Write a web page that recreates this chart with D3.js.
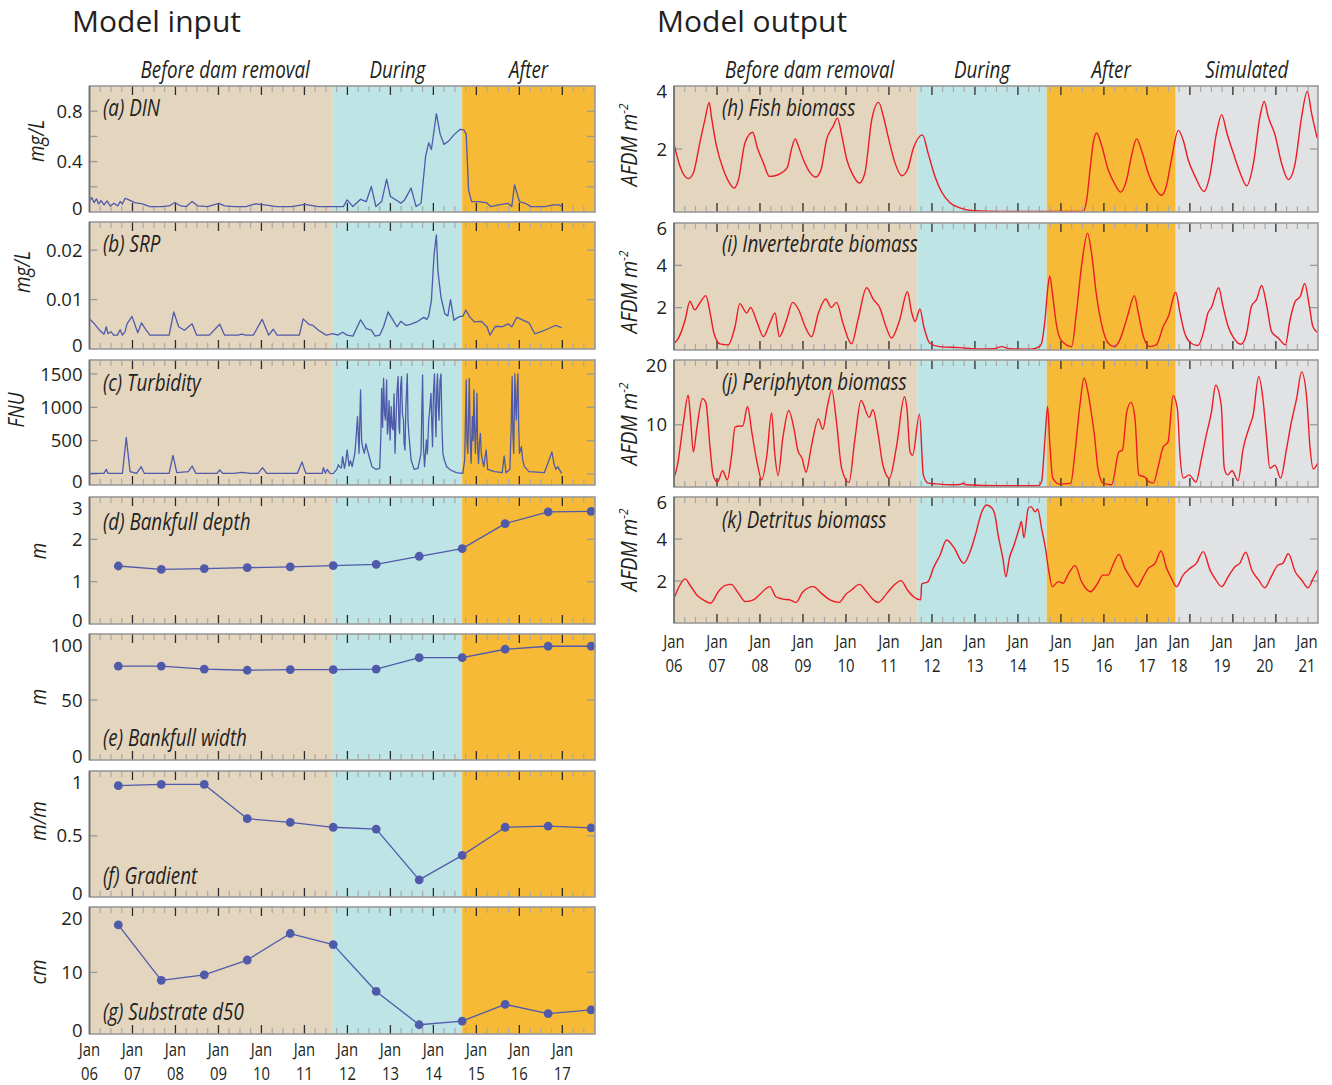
<!DOCTYPE html>
<meta charset="utf-8">
<html>
<head>
    <title>Model input and output</title>
    <script src="https://cdn.jsdelivr.net/npm/d3@7"></script>
    <style>
        body { margin: 0; background: #fff; }
        text { font-family: "Open Sans", "Noto Sans", sans-serif; fill: #231f20; }
        .tlab { font-size: 18.5px; }
        .xlab { font-size: 17.5px; }
        .ital { font-size: 23.5px; font-style: italic; }
        .ylab { font-size: 22px; font-style: italic; }
        .head { font-size: 30px; }
    </style>
</head>
<body>
<script>
// ---------------- data ----------------
var periodNames = ["Before dam removal", "During", "After", "Simulated"];
var periodStart = [2006, 2011.66, 2014.67, 2017.67];
var periodEnd   = [2011.66, 2014.67, 2017.67, 2020.98];
var periodColor = ["#e4d5bf", "#bee4e5", "#f6ba37", "#e1e2e4"];

// annual channel surveys (late summer)
var surveyT  = [2006.67, 2007.67, 2008.67, 2009.67, 2010.67, 2011.67, 2012.67, 2013.67, 2014.67, 2015.67, 2016.67, 2017.67];
var depth    = [1.37, 1.29, 1.31, 1.33, 1.35, 1.38, 1.41, 1.60, 1.78, 2.37, 2.65, 2.66];
var width    = [78.3, 78.3, 75.8, 74.8, 75.3, 75.3, 75.8, 85.3, 85.3, 92.3, 94.8, 94.8];
var gradient = [0.91, 0.92, 0.92, 0.64, 0.61, 0.57, 0.555, 0.14, 0.34, 0.57, 0.58, 0.565];
var d50      = [17.7, 8.7, 9.6, 12.0, 16.3, 14.5, 6.9, 1.5, 2.1, 4.8, 3.3, 3.9];

// [decimal year, value]
var din = [[2006.0,0.083],[2006.053,0.115],[2006.107,0.075],[2006.16,0.104],[2006.214,0.064],[2006.267,0.091],
  [2006.338,0.056],[2006.41,0.088],[2006.481,0.048],[2006.57,0.069],[2006.659,0.048],[2006.713,0.083],[2006.766,0.064],
  [2006.828,0.109],[2006.917,0.096],[2007.051,0.075],[2007.229,0.064],[2007.407,0.043],[2007.675,0.043],[2007.853,0.048],
  [2007.986,0.075],[2008.12,0.048],[2008.253,0.043],[2008.387,0.083],[2008.521,0.048],[2008.743,0.043],[2009.011,0.069],
  [2009.144,0.048],[2009.367,0.043],[2009.634,0.043],[2009.857,0.064],[2010.079,0.056],[2010.347,0.043],[2010.703,0.043],
  [2011.015,0.061],[2011.326,0.043],[2011.683,0.043],[2011.905,0.043],[2011.994,0.096],[2012.128,0.043],[2012.306,0.101],
  [2012.44,0.083],[2012.556,0.203],[2012.663,0.043],[2012.796,0.083],[2012.912,0.261],[2013.001,0.123],[2013.152,0.091],
  [2013.241,0.069],[2013.33,0.096],[2013.482,0.189],[2013.598,0.043],[2013.713,0.069],[2013.82,0.443],[2013.892,0.549],
  [2013.954,0.496],[2014.07,0.781],[2014.159,0.616],[2014.248,0.536],[2014.355,0.563],[2014.488,0.616],[2014.622,0.656],
  [2014.711,0.651],[2014.764,0.616],[2014.818,0.176],[2014.889,0.083],[2015.023,0.083],[2015.228,0.075],[2015.335,0.043],
  [2015.513,0.056],[2015.735,0.069],[2015.824,0.043],[2015.887,0.216],[2016.003,0.083],[2016.136,0.069],[2016.27,0.043],
  [2016.581,0.043],[2016.804,0.056],[2016.938,0.056],[2016.982,0.043]];

var srp = [[2006.0,0.0061],[2006.116,0.0051],[2006.232,0.0038],[2006.338,0.003],[2006.392,0.0045],[2006.428,0.0031],
  [2006.499,0.0035],[2006.561,0.0028],[2006.65,0.0028],[2006.713,0.0039],[2006.766,0.0028],[2006.828,0.0035],[2006.873,0.0051],
  [2006.989,0.0066],[2007.122,0.0033],[2007.211,0.0053],[2007.318,0.0038],[2007.407,0.0028],[2007.853,0.0028],[2007.96,0.0075],
  [2008.075,0.0045],[2008.209,0.0038],[2008.387,0.0051],[2008.494,0.0028],[2008.788,0.0028],[2009.028,0.005],[2009.144,0.0028],
  [2009.456,0.0028],[2009.545,0.003],[2009.634,0.0028],[2009.812,0.0028],[2010.017,0.006],[2010.169,0.0028],[2010.275,0.004],
  [2010.364,0.0028],[2010.881,0.0028],[2010.97,0.0061],[2011.104,0.005],[2011.193,0.0048],[2011.326,0.0038],[2011.504,0.0028],
  [2011.665,0.0031],[2011.772,0.0028],[2011.888,0.0034],[2011.994,0.0028],[2012.128,0.0026],[2012.306,0.0059],[2012.44,0.0041],
  [2012.556,0.0038],[2012.645,0.0026],[2012.751,0.0028],[2012.841,0.0045],[2012.947,0.0075],[2013.152,0.0045],[2013.241,0.0056],
  [2013.357,0.0048],[2013.464,0.005],[2013.642,0.0056],[2013.776,0.0064],[2013.847,0.006],[2013.892,0.0067],[2013.954,0.0098],
  [2014.016,0.0191],[2014.07,0.0231],[2014.105,0.0158],[2014.177,0.0105],[2014.266,0.0071],[2014.337,0.0067],[2014.399,0.01],
  [2014.479,0.0058],[2014.551,0.0063],[2014.622,0.0066],[2014.684,0.0066],[2014.756,0.0079],[2014.845,0.0065],[2014.952,0.0055],
  [2015.112,0.0056],[2015.246,0.0045],[2015.317,0.0028],[2015.442,0.0046],[2015.602,0.0045],[2015.735,0.0051],[2015.824,0.0045],
  [2015.94,0.0064],[2016.047,0.006],[2016.225,0.0053],[2016.359,0.0031],[2016.448,0.0033],[2016.67,0.0041],[2016.849,0.0048],
  [2016.982,0.0043]];

var turbidity = [[2006.0,10],[2006.338,10],[2006.392,70],[2006.428,10],[2006.766,10],[2006.855,550],[2006.944,35],
  [2007.096,10],[2007.202,110],[2007.274,10],[2007.853,10],[2007.942,280],[2008.031,20],[2008.298,35],[2008.387,120],
  [2008.476,10],[2008.966,10],[2009.028,60],[2009.1,10],[2009.367,10],[2009.545,25],[2009.723,10],[2009.919,10],
  [2010.026,95],[2010.124,10],[2010.837,10],[2010.944,180],[2011.032,10],[2011.415,10],[2011.442,95],[2011.487,10],
  [2011.531,70],[2011.594,10],[2011.665,5],[2011.754,70],[2011.79,140],[2011.816,110],[2011.86,90],[2011.888,260],[2011.932,85],
  [2011.96,180],[2011.994,360],[2012.039,120],[2012.07,200],[2012.11,110],[2012.173,310],[2012.2,520],[2012.235,860],
  [2012.271,310],[2012.306,1260],[2012.33,500],[2012.351,410],[2012.395,310],[2012.43,450],[2012.467,360],[2012.529,210],
  [2012.573,110],[2012.663,70],[2012.751,85],[2012.78,600],[2012.796,1285],[2012.82,700],[2012.841,1435],[2012.865,900],
  [2012.885,810],[2012.912,1410],[2012.93,600],[2012.947,710],[2012.97,1100],[2012.992,510],[2013.019,1010],[2013.04,700],
  [2013.063,660],[2013.085,1200],[2013.108,310],[2013.13,800],[2013.152,1210],[2013.179,1460],[2013.2,700],[2013.215,610],
  [2013.237,1300],[2013.259,1460],[2013.28,900],[2013.304,810],[2013.32,450],[2013.339,360],[2013.36,1000],[2013.393,1500],
  [2013.41,800],[2013.428,610],[2013.482,210],[2013.553,70],[2013.642,85],[2013.713,310],[2013.73,900],[2013.749,1485],
  [2013.77,400],[2013.794,110],[2013.838,510],[2013.86,300],[2013.892,810],[2013.92,1000],[2013.945,1210],[2013.965,700],
  [2013.981,410],[2014.0,1200],[2014.025,1500],[2014.045,900],[2014.061,560],[2014.08,1300],[2014.096,1500],[2014.115,1000],
  [2014.132,810],[2014.155,1400],[2014.177,1500],[2014.2,700],[2014.221,310],[2014.26,200],[2014.31,110],[2014.399,60],
  [2014.533,20],[2014.684,10],[2014.729,210],[2014.764,1410],[2014.78,500],[2014.8,310],[2014.82,900],[2014.836,1435],
  [2014.855,600],[2014.878,160],[2014.907,860],[2014.925,500],[2014.943,1260],[2014.96,700],[2014.978,310],[2015.0,800],
  [2015.014,1210],[2015.03,400],[2015.05,160],[2015.07,450],[2015.094,610],[2015.115,300],[2015.139,210],[2015.174,110],
  [2015.2,250],[2015.228,360],[2015.263,70],[2015.423,35],[2015.602,20],[2015.646,270],[2015.691,20],[2015.78,70],
  [2015.81,700],[2015.833,1460],[2015.85,600],[2015.869,310],[2015.896,1500],[2015.915,1000],[2015.931,810],[2015.95,1300],
  [2015.967,1500],[2015.985,700],[2016.003,310],[2016.047,410],[2016.08,200],[2016.118,110],[2016.225,35],[2016.581,20],
  [2016.759,330],[2016.804,160],[2016.849,70],[2016.893,110],[2016.982,10]];

var fish = [[2006.0,2.17],[2006.06,1.82],[2006.14,1.45],[2006.33,1.06],[2006.45,1.24],[2006.6,2.19],[2006.72,2.93],
  [2006.82,3.48],[2006.87,3.03],[2006.99,2.08],[2007.15,1.34],[2007.29,0.92],[2007.4,0.76],[2007.5,1.03],[2007.65,2.19],
  [2007.83,2.53],[2007.94,2.03],[2008.08,1.56],[2008.22,1.13],[2008.35,1.15],[2008.47,1.22],[2008.63,1.4],[2008.74,2.03],
  [2008.82,2.32],[2008.88,2.14],[2009.01,1.66],[2009.16,1.26],[2009.3,1.11],[2009.42,1.34],[2009.55,2.3],[2009.7,2.72],
  [2009.8,2.98],[2009.9,2.45],[2010.02,1.66],[2010.16,1.18],[2010.31,0.92],[2010.44,1.24],[2010.6,2.93],[2010.76,3.48],
  [2010.87,3.03],[2010.98,2.4],[2011.14,1.56],[2011.3,1.15],[2011.43,1.34],[2011.57,2.03],[2011.78,2.45],[2011.91,1.87],
  [2012.07,1.13],[2012.22,0.65],[2012.42,0.29],[2012.65,0.13],[2012.97,0.04],[2013.58,0.02],[2015.52,0.02],[2015.6,0.39],
  [2015.67,1.24],[2015.75,2.19],[2015.83,2.51],[2015.94,2.14],[2016.1,1.34],[2016.26,0.87],[2016.39,0.63],[2016.53,1.03],
  [2016.64,1.77],[2016.76,2.32],[2016.87,1.98],[2017.03,1.24],[2017.19,0.76],[2017.34,0.53],[2017.45,0.81],[2017.57,1.66],
  [2017.73,2.59],[2017.84,2.3],[2017.96,1.66],[2018.12,1.13],[2018.33,0.65],[2018.46,1.13],[2018.62,2.51],[2018.74,3.09],
  [2018.86,2.51],[2019.01,1.87],[2019.17,1.24],[2019.32,0.83],[2019.48,1.56],[2019.63,3.03],[2019.73,3.51],[2019.82,3.03],
  [2019.98,2.45],[2020.13,1.56],[2020.29,1.03],[2020.45,1.56],[2020.6,3.03],[2020.73,3.83],[2020.83,3.14],[2020.96,2.35]];

var invert = [[2006.0,0.32],[2006.08,0.48],[2006.26,1.43],[2006.37,2.3],[2006.48,1.9],[2006.6,2.22],[2006.74,2.57],
  [2006.84,1.75],[2006.93,0.79],[2007.07,0.29],[2007.26,0.24],[2007.42,1.11],[2007.53,2.19],[2007.69,1.75],[2007.78,2.01],
  [2007.94,1.27],[2008.08,0.63],[2008.23,1.27],[2008.35,1.75],[2008.45,0.63],[2008.62,1.43],[2008.76,2.25],[2008.9,1.9],
  [2009.05,1.11],[2009.2,0.63],[2009.36,1.75],[2009.53,2.41],[2009.66,2.01],[2009.78,2.25],[2009.93,1.27],[2010.13,0.29],
  [2010.28,1.43],[2010.48,2.94],[2010.64,2.38],[2010.79,1.98],[2010.93,1.11],[2011.06,0.56],[2011.25,1.43],[2011.43,2.75],
  [2011.53,1.75],[2011.61,1.35],[2011.72,1.94],[2011.81,1.11],[2011.95,0.32],[2012.18,0.16],[2012.65,0.11],[2013.04,0.05],
  [2013.45,0.06],[2013.62,0.16],[2013.8,0.06],[2014.3,0.04],[2014.5,0.16],[2014.55,0.32],[2014.63,1.43],[2014.7,3.02],
  [2014.74,3.49],[2014.81,2.54],[2014.89,1.27],[2015.0,0.48],[2015.25,0.16],[2015.36,1.75],[2015.48,3.97],[2015.62,5.52],
  [2015.71,4.6],[2015.83,2.54],[2015.94,1.27],[2016.1,0.32],[2016.24,0.16],[2016.37,0.48],[2016.49,1.19],[2016.57,1.75],
  [2016.71,2.57],[2016.8,1.75],[2016.92,0.63],[2017.07,0.16],[2017.22,0.24],[2017.38,1.11],[2017.5,1.59],[2017.67,2.73],
  [2017.77,1.75],[2017.88,0.79],[2018.03,0.32],[2018.19,0.21],[2018.31,0.79],[2018.42,1.75],[2018.5,2.0],[2018.67,2.94],
  [2018.77,2.06],[2018.89,1.11],[2019.0,0.63],[2019.19,0.27],[2019.32,0.79],[2019.43,2.06],[2019.55,2.38],[2019.67,3.05],
  [2019.79,2.06],[2019.9,0.87],[2020.06,0.56],[2020.22,0.24],[2020.33,1.43],[2020.45,2.3],[2020.57,2.54],[2020.67,3.14],
  [2020.78,2.06],[2020.86,1.11],[2020.96,0.84]];

var periphyton = [[2006.0,1.43],[2006.08,3.5],[2006.22,10.4],[2006.33,14.76],[2006.38,11.5],[2006.45,5.65],[2006.53,9.36],
  [2006.66,14.2],[2006.74,13.6],[2006.84,6.2],[2006.91,1.95],[2007.01,0.79],[2007.13,2.6],[2007.24,1.16],[2007.34,5.1],
  [2007.42,9.6],[2007.53,9.8],[2007.6,9.8],[2007.71,12.95],[2007.81,8.8],[2007.93,4.05],[2008.04,1.16],[2008.16,5.1],
  [2008.27,11.9],[2008.34,5.65],[2008.42,1.85],[2008.53,7.8],[2008.67,12.3],[2008.79,9.36],[2008.88,5.9],[2008.98,4.6],
  [2009.07,2.37],[2009.2,6.7],[2009.36,10.95],[2009.46,9.25],[2009.57,13.05],[2009.67,15.6],[2009.78,10.4],[2009.9,3.0],
  [2010.07,0.74],[2010.21,7.8],[2010.35,13.9],[2010.54,11.2],[2010.63,12.4],[2010.74,8.8],[2010.86,3.5],[2011.01,1.43],
  [2011.18,6.7],[2011.36,14.5],[2011.42,12.5],[2011.49,5.65],[2011.55,5.1],[2011.71,11.7],[2011.8,1.95],[2011.91,0.63],
  [2012.1,0.5],[2012.49,0.35],[2012.65,0.4],[2012.73,0.6],[2012.8,0.35],[2013.58,0.2],[2014.47,0.2],[2014.55,0.9],
  [2014.63,7.8],[2014.69,12.95],[2014.74,7.2],[2014.81,1.43],[2014.97,0.48],[2015.23,0.63],[2015.32,5.1],[2015.44,13.05],
  [2015.54,17.5],[2015.63,15.2],[2015.71,11.75],[2015.78,8.3],[2015.86,3.0],[2015.98,0.63],[2016.18,0.37],[2016.35,5.65],
  [2016.43,5.9],[2016.53,12.0],[2016.63,13.6],[2016.72,11.2],[2016.81,1.95],[2016.95,1.6],[2017.03,0.9],[2017.15,0.63],
  [2017.27,3.5],[2017.38,6.45],[2017.49,7.2],[2017.61,14.65],[2017.71,12.5],[2017.77,5.1],[2017.85,1.43],[2017.98,1.95],
  [2018.14,0.79],[2018.27,4.6],[2018.38,8.3],[2018.5,12.0],[2018.6,16.35],[2018.73,13.05],[2018.8,3.0],[2018.88,1.95],
  [2018.98,2.6],[2019.12,1.0],[2019.24,6.2],[2019.39,9.8],[2019.47,11.5],[2019.6,17.7],[2019.7,14.1],[2019.78,8.3],
  [2019.86,3.0],[2019.98,3.5],[2020.11,1.43],[2020.25,6.2],[2020.36,10.4],[2020.48,14.1],[2020.6,18.5],[2020.72,14.1],
  [2020.79,6.7],[2020.87,2.9],[2020.97,3.8]];

var detritus = [[2006.0,1.17],[2006.14,1.81],[2006.26,2.1],[2006.37,1.81],[2006.53,1.33],[2006.68,1.1],[2006.85,0.94],
  [2007.03,1.49],[2007.18,1.78],[2007.33,1.84],[2007.5,1.41],[2007.66,1.02],[2007.85,1.1],[2008.0,1.37],[2008.23,1.73],
  [2008.37,1.25],[2008.54,1.14],[2008.7,1.1],[2008.84,0.98],[2008.99,1.46],[2009.24,1.73],[2009.43,1.41],[2009.63,1.1],
  [2009.84,0.98],[2010.0,1.37],[2010.13,1.57],[2010.31,1.84],[2010.48,1.49],[2010.64,1.1],[2010.75,0.98],[2010.95,1.41],
  [2011.12,1.81],[2011.28,2.02],[2011.43,1.57],[2011.57,1.25],[2011.74,1.1],[2011.76,1.85],[2011.91,1.97],[2012.03,2.6],
  [2012.19,3.24],[2012.34,3.95],[2012.5,3.63],[2012.74,2.84],[2012.89,3.4],[2013.01,4.19],[2013.16,5.3],[2013.27,5.62],
  [2013.39,5.49],[2013.47,5.1],[2013.54,4.19],[2013.65,3.08],[2013.72,2.2],[2013.8,3.08],[2013.91,3.71],[2014.03,4.51],
  [2014.08,4.83],[2014.14,4.06],[2014.24,5.46],[2014.3,5.54],[2014.4,5.3],[2014.46,5.43],[2014.55,4.51],[2014.64,3.56],
  [2014.72,2.44],[2014.8,1.73],[2014.94,1.97],[2015.05,1.89],[2015.18,2.36],[2015.33,2.73],[2015.48,1.97],[2015.69,1.49],
  [2015.83,1.81],[2015.98,2.28],[2016.1,2.28],[2016.21,2.76],[2016.35,3.27],[2016.49,2.6],[2016.63,2.13],[2016.78,1.73],
  [2016.91,2.17],[2017.03,2.6],[2017.19,2.84],[2017.33,3.43],[2017.46,2.6],[2017.57,2.13],[2017.69,1.73],[2017.84,2.28],
  [2018.0,2.6],[2018.15,2.84],[2018.31,3.4],[2018.47,2.52],[2018.58,2.13],[2018.74,1.73],[2018.89,2.2],[2019.05,2.68],
  [2019.16,2.84],[2019.3,3.37],[2019.44,2.52],[2019.6,2.05],[2019.74,1.68],[2019.89,2.2],[2020.05,2.76],[2020.16,2.84],
  [2020.29,3.3],[2020.45,2.44],[2020.6,2.05],[2020.75,1.68],[2020.87,2.13],[2020.97,2.52]];

// ---------------- layout ----------------
var w = 1332, h = 1085;
var blue = "#4f5aaa", red = "#ed1c24";
var narrow = 0.8;   // horizontal squeeze to imitate a condensed face

var svg = d3.select("body").append("svg").attr("width", w).attr("height", h);
svg.append("rect").attr("width", w).attr("height", h).attr("fill", "#fff");

var xL = d3.scaleLinear().domain([2006, 2017.76]).range([89.5, 595]);
var xR = d3.scaleLinear().domain([2006, 2020.98]).range([674, 1318]);

// text inside a squeezed group
function ctext(parent, x, y, str, cls, anchor, sx, rot) {
    var g = parent.append("g")
        .attr("transform", "translate(" + x + "," + y + ")" + (rot ? " rotate(" + rot + ")" : "") + " scale(" + sx + ",1)");
    return g.append("text").attr("class", cls).attr("text-anchor", anchor || "start").text(str);
}

var panels = [
    {side: "L", top: 86,  bot: 212, ydom: [0, 1.0],     ticks: [0.2, 0.4, 0.6, 0.8], labels: [0, 0.4, 0.8],
     title: "(a) DIN", titleY: 116, unit: "mg/L", unitX: 44, unitY: 141, data: din},
    {side: "L", top: 222, bot: 349, ydom: [0, 0.0257],  ticks: [0.01, 0.02], labels: [0, 0.01, 0.02],
     title: "(b) SRP", titleY: 252, unit: "mg/L", unitX: 30, unitY: 272, data: srp},
    {side: "L", top: 360, bot: 485, ydom: [-165, 1710], ticks: [0, 500, 1000, 1500], labels: [0, 500, 1000, 1500],
     zeroAtBottom: true, title: "(c) Turbidity", titleY: 391, unit: "FNU", unitX: 24, unitY: 410, data: turbidity},
    {side: "L", top: 497, bot: 624, ydom: [0, 3],       ticks: [1, 2], labels: [0, 1, 2, 3],
     title: "(d) Bankfull depth", titleY: 530, unit: "m", unitX: 46, unitY: 551, data: d3.zip(surveyT, depth), dots: true},
    {side: "L", top: 634, bot: 760, ydom: [0, 105],     ticks: [50], labels: [0, 50, 100],
     title: "(e) Bankfull width", titleY: 746, unit: "m", unitX: 46, unitY: 697, data: d3.zip(surveyT, width), dots: true},
    {side: "L", top: 771, bot: 897, ydom: [0, 1.03],    ticks: [0.5], labels: [0, 0.5, 1],
     title: "(f) Gradient", titleY: 884, unit: "m/m", unitX: 46, unitY: 821, data: d3.zip(surveyT, gradient), dots: true},
    {side: "L", top: 907, bot: 1034, ydom: [0, 20.6],   ticks: [10], labels: [0, 10, 20],
     title: "(g) Substrate d50", titleY: 1020, unit: "cm", unitX: 46, unitY: 972, data: d3.zip(surveyT, d50), dots: true},
    {side: "R", top: 86,  bot: 212, ydom: [0, 4],       ticks: [2], labels: [2, 4],
     title: "(h) Fish biomass", titleY: 116, unitY: 145, data: fish},
    {side: "R", top: 223, bot: 350, ydom: [0, 6],       ticks: [2, 4], labels: [2, 4, 6],
     title: "(i) Invertebrate biomass", titleY: 252, unitY: 292, data: invert},
    {side: "R", top: 360, bot: 487, ydom: [0, 20.4],    ticks: [10], labels: [10, 20],
     title: "(j) Periphyton biomass", titleY: 390, unitY: 424, data: periphyton},
    {side: "R", top: 497, bot: 623, ydom: [0, 6],       ticks: [2, 4], labels: [2, 4, 6],
     title: "(k) Detritus biomass", titleY: 528, unitY: 550, data: detritus}
];

function drawPanel(p) {
    var x = p.side === "L" ? xL : xR;
    var y = d3.scaleLinear().domain(p.ydom).range([p.bot, p.top]);
    var x0 = x.range()[0], x1 = x.range()[1];
    var g = svg.append("g");

    // period backgrounds
    var n = p.side === "L" ? 3 : 4;
    var per = d3.range(n).map(function(i) {
        return {a: periodStart[i], b: i === n - 1 ? x.domain()[1] : periodEnd[i], c: periodColor[i]};
    });
    g.selectAll("rect.bg").data(per).join("rect")
        .attr("x", function(d) { return x(d.a); })
        .attr("width", function(d) { return x(d.b) - x(d.a); })
        .attr("y", p.top).attr("height", p.bot - p.top)
        .attr("fill", function(d) { return d.c; });

    // time ticks, inward at top and bottom
    var minor = d3.range(2006.25, x.domain()[1], 0.25).filter(function(t) { return Math.abs(t - Math.round(t)) > 0.01; });
    var major = d3.range(2007, x.domain()[1]);
    [[minor, 6, "#a8a8a8", 1.2], [major, 9, "#2b2b2b", 1.3]].forEach(function(s) {
        s[0].forEach(function(t) {
            g.append("line").attr("x1", x(t)).attr("x2", x(t)).attr("y1", p.top).attr("y2", p.top + s[1])
                .attr("stroke", s[2]).attr("stroke-width", s[3]);
            g.append("line").attr("x1", x(t)).attr("x2", x(t)).attr("y1", p.bot).attr("y2", p.bot - s[1])
                .attr("stroke", s[2]).attr("stroke-width", s[3]);
        });
    });

    // value ticks, grey, inward on both sides
    p.ticks.forEach(function(v) {
        g.append("line").attr("x1", x1).attr("x2", x1 - 8).attr("y1", y(v)).attr("y2", y(v))
            .attr("stroke", "#9a9a9a").attr("stroke-width", 1.3);
        g.append("line").attr("x1", x0).attr("x2", x0 + 8).attr("y1", y(v)).attr("y2", y(v))
            .attr("stroke", "#9a9a9a").attr("stroke-width", 1.3);
    });

    // value labels (kept inside the frame height so neighbouring panels do not collide)
    var pad = p.side === "L" ? 11 : 5;
    p.labels.forEach(function(v) {
        var yy = y(v);
        if (v === 0 && p.zeroAtBottom) yy = p.bot;
        yy = Math.max(p.top + pad, Math.min(p.bot - 4, yy));
        g.append("text").attr("class", "tlab").attr("x", x0 - 7).attr("y", yy).attr("dy", "0.36em")
            .attr("text-anchor", "end").text(String(v));
    });

    // series
    var line = d3.line()
        .x(function(d) { return x(d[0]); })
        .y(function(d) { return y(d[1]); })
        .curve(p.side === "R" ? d3.curveMonotoneX : d3.curveLinear);
    g.append("path").datum(p.data).attr("d", line)
        .attr("fill", "none")
        .attr("stroke", p.side === "L" ? blue : red)
        .attr("stroke-width", p.side === "L" ? 1.3 : 1.4)
        .attr("stroke-linejoin", "round");
    if (p.dots) {
        g.selectAll("circle").data(p.data).join("circle")
            .attr("cx", function(d) { return x(d[0]); })
            .attr("cy", function(d) { return y(d[1]); })
            .attr("r", 4.4).attr("fill", blue);
    }

    // frame
    g.append("rect").attr("x", x0).attr("y", p.top).attr("width", x1 - x0).attr("height", p.bot - p.top)
        .attr("fill", "none").attr("stroke", "#9a9a9a").attr("stroke-width", 1.6);
    g.append("line").attr("x1", x0).attr("x2", x0).attr("y1", p.top).attr("y2", p.bot)
        .attr("stroke", "#6e6e6e").attr("stroke-width", 1.6);

    // panel title
    ctext(g, p.side === "L" ? 103 : 722, p.titleY, p.title, "ital", "start", narrow);

    // unit label
    if (p.side === "L") {
        ctext(g, p.unitX, p.unitY, p.unit, "ylab", "middle", 0.86, -90);
    } else {
        var t = ctext(g, 637, p.unitY, "", "ylab", "middle", 0.9, -90);
        t.append("tspan").text("AFDM m");
        t.append("tspan").attr("dy", -9).attr("font-size", 13).text("-2");
    }
}

panels.forEach(drawPanel);

// period headers
function periodHeaders(x, n) {
    d3.range(n).forEach(function(i) {
        var b = i === n - 1 ? x.domain()[1] : periodEnd[i];
        var mid = (x(periodStart[i]) + x(b)) / 2 + (i === 0 ? 14 : 0);
        ctext(svg, mid, 78, periodNames[i], "ital", "middle", narrow);
    });
}
periodHeaders(xL, 3);
periodHeaders(xR, 4);

// time labels: "Jan" over the two-digit year
function timeLabels(x, years, y1, gap) {
    years.forEach(function(yr) {
        var xx = Math.min(x(yr), x.range()[1]) - (yr >= 2018 ? 11 : 0);
        ctext(svg, xx, y1, "Jan", "xlab", "middle", 0.85);
        ctext(svg, xx, y1 + gap, String(yr).slice(2), "xlab", "middle", 0.85);
    });
}
timeLabels(xL, d3.range(2006, 2018), 1056, 24);
timeLabels(xR, d3.range(2006, 2022), 648, 24);

svg.append("text").attr("class", "head").attr("x", 72).attr("y", 32).text("Model input");
svg.append("text").attr("class", "head").attr("x", 657).attr("y", 32).text("Model output");
</script>
</body>
</html>
